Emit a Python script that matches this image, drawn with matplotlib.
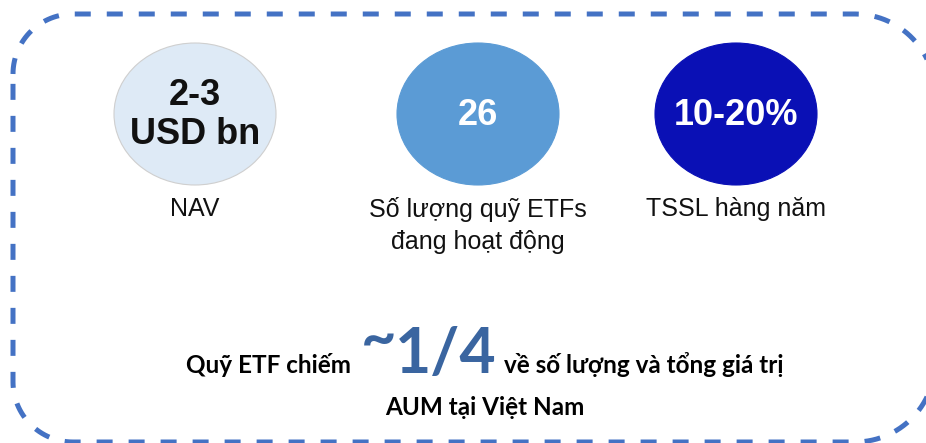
import matplotlib
matplotlib.use("Agg")
import matplotlib.pyplot as plt
import numpy as np
from matplotlib.patches import Ellipse, PathPatch
from matplotlib.path import Path

# dữ liệu
stat_values = ["2-3\nUSD bn", "26", "10-20%"]
stat_labels = ["NAV", "Số lượng quỹ ETFs\nđang hoạt động", "TSSL hàng năm"]
circle_colors = ["#DEEAF6", "#5B9BD5", "#0A10B5"]
value_colors = ["#111111", "white", "white"]
headline_left = "Quỹ ETF chiếm"
headline_big = "~1/4"
headline_right = "về số lượng và tổng giá trị"
headline_line2 = "AUM tại Việt Nam"

# vị trí (pixel)
centers_x = [195, 478, 736]
center_y = 114
rx, ry = 81, 71

W, H = 926, 443
fig = plt.figure(figsize=(W / 100, H / 100), dpi=100)
ax = fig.add_axes([0, 0, 1, 1])
ax.set_xlim(0, W)
ax.set_ylim(H, 0)
ax.axis("off")


def rounded_box(x0, y0, x1, y1, r_left, r_right, n=30):
    """khung bo góc, góc trái và phải có bán kính khác nhau"""
    pts = []
    # góc trên trái -> trên phải -> dưới phải -> dưới trái
    corners = [
        (x0 + r_left, y0 + r_left, r_left, np.pi, 1.5 * np.pi),
        (x1 - r_right, y0 + r_right, r_right, 1.5 * np.pi, 2 * np.pi),
        (x1 - r_right, y1 - r_right, r_right, 0, 0.5 * np.pi),
        (x0 + r_left, y1 - r_left, r_left, 0.5 * np.pi, np.pi),
    ]
    for cx, cy, r, a0, a1 in corners:
        t = np.linspace(a0, a1, n)
        pts += list(zip(cx + r * np.cos(t), cy + r * np.sin(t)))
    pts.append(pts[0])
    return Path(pts)


# khung viền nét đứt
border = PathPatch(rounded_box(13, 14, 935, 442, 60, 80), facecolor="none",
                   edgecolor="#4472C4", linewidth=3.6,
                   linestyle=(0, (3.2, 3.2)), clip_on=False)
ax.add_patch(border)

# các vòng tròn
for i, (cx, val, lab) in enumerate(zip(centers_x, stat_values, stat_labels)):
    edge = "#CFCFCF" if i == 0 else circle_colors[i]
    ax.add_patch(Ellipse((cx, center_y), 2 * rx, 2 * ry, facecolor=circle_colors[i],
                         edgecolor=edge, linewidth=0.8))
    ax.text(cx, center_y + 1, val, ha="center", va="center", fontsize=26,
            fontweight="bold", family="Liberation Sans", color=value_colors[i],
            linespacing=1.15)
    ax.text(cx, 197, lab, ha="center", va="top", fontsize=18,
            family="Liberation Sans", color="#111111", linespacing=1.4)

# dòng tiêu đề dưới
fam = ["Lato", "DejaVu Sans"]
base = 373
t1 = ax.text(0, base, headline_left, ha="left", va="baseline", fontsize=17.5,
             fontweight="bold", family=fam, color="black")
t_tilde = ax.text(0, base - 14, headline_big[0], ha="left", va="baseline",
                  fontsize=44, fontweight="bold", family=fam, color="#3A65A0")
t2 = ax.text(0, base, headline_big[1:], ha="left", va="baseline", fontsize=45,
             fontweight="bold", family=fam, color="#3A65A0")
t3 = ax.text(0, base, headline_right, ha="left", va="baseline", fontsize=17.5,
             fontweight="bold", family=fam, color="black")
fig.canvas.draw()
r = fig.canvas.get_renderer()
pieces = [t1, t_tilde, t2, t3]
widths = [t.get_window_extent(r).width for t in pieces]
gaps = [10, -2, 8, 0]
total = sum(widths) + sum(gaps[:3])
x = 485 - total / 2
for t, w, g in zip(pieces, widths, gaps):
    t.set_x(x)
    x += w + g

ax.text(485, 415, headline_line2, ha="center", va="baseline", fontsize=17.5,
        fontweight="bold", family=fam, color="black")

fig.savefig("out.png", dpi=100)
